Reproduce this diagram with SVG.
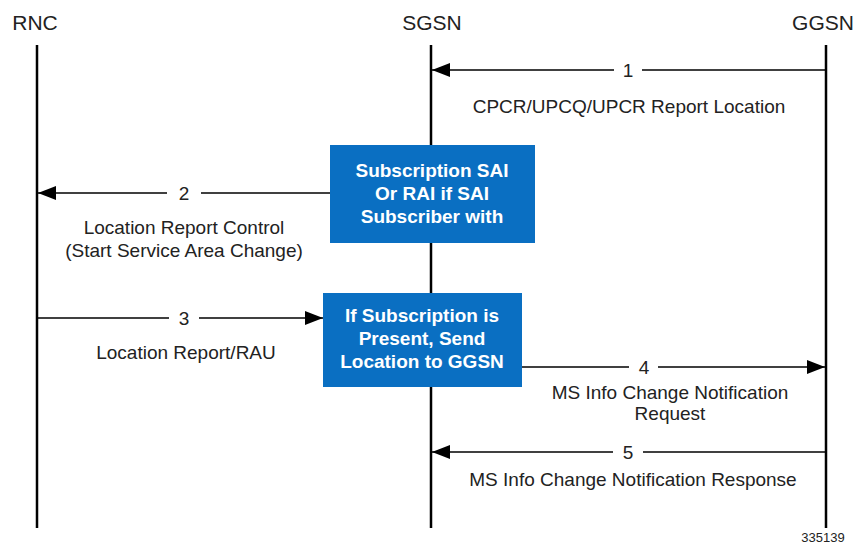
<svg xmlns="http://www.w3.org/2000/svg" width="859" height="548" viewBox="0 0 859 548">
<style>
.t{font-family:"Liberation Sans",Arial,sans-serif;font-size:19px;fill:#222;text-anchor:middle}
.h{font-family:"Liberation Sans",Arial,sans-serif;font-size:21px;fill:#222;text-anchor:middle}
.b{font-family:"Liberation Sans",Arial,sans-serif;font-size:19px;font-weight:bold;fill:#fff;text-anchor:middle}
.life{stroke:#000;stroke-width:2.5}
.msg{stroke:#000;stroke-width:1.5;fill:none}
.box{fill:#0a6fc2}
</style>
<defs>
<marker id="ah" markerWidth="18" markerHeight="14" refX="18" refY="7" orient="auto" markerUnits="userSpaceOnUse">
<path d="M0,0 L18,7 L0,14 Z" fill="#000"/>
</marker>
</defs>
<rect width="859" height="548" fill="#fff"/>
<g id="RNC"><text class="h" x="35" y="30">RNC</text><line class="life" x1="37" y1="45" x2="37" y2="528"/></g>
<g id="SGSN"><text class="h" x="432" y="30">SGSN</text><line class="life" x1="431" y1="45" x2="431" y2="528"/></g>
<g id="GGSN"><text class="h" x="823" y="30">GGSN</text><line class="life" x1="826" y1="45" x2="826" y2="528"/></g>
<g id="box1"><rect class="box" x="330" y="145" width="205" height="98"/>
<text class="b" x="432" y="177">Subscription SAI</text>
<text class="b" x="432" y="200">Or RAI if SAI</text>
<text class="b" x="432" y="223">Subscriber with</text></g>
<g id="box2"><rect class="box" x="323" y="293" width="199" height="94"/>
<text class="b" x="422" y="322">If Subscription is</text>
<text class="b" x="422" y="345">Present, Send</text>
<text class="b" x="422" y="368">Location to GGSN</text></g>
<g id="connectors">
<path class="msg" d="M826,70 H642"/><path class="msg" d="M614,70 H432" marker-end="url(#ah)"/>
<text class="t" x="628" y="77">1</text>
<text class="t" x="629" y="113">CPCR/UPCQ/UPCR Report Location</text>
<path class="msg" d="M330,193 H201"/><path class="msg" d="M167,193 H38" marker-end="url(#ah)"/>
<text class="t" x="184" y="200">2</text>
<text class="t" x="184" y="234">Location Report Control</text>
<text class="t" x="184" y="257">(Start Service Area Change)</text>
<path class="msg" d="M37,318 H169"/><path class="msg" d="M199,318 H323" marker-end="url(#ah)"/>
<text class="t" x="184" y="325">3</text>
<text class="t" x="186" y="359">Location Report/RAU</text>
<path class="msg" d="M522,367 H629"/><path class="msg" d="M658,367 H825" marker-end="url(#ah)"/>
<text class="t" x="644" y="374">4</text>
<text class="t" x="670" y="399">MS Info Change Notification</text>
<text class="t" x="670" y="420">Request</text>
<path class="msg" d="M826,452 H643"/><path class="msg" d="M613,452 H432" marker-end="url(#ah)"/>
<text class="t" x="628" y="459">5</text>
<text class="t" x="633" y="486">MS Info Change Notification Response</text>
</g>
<text x="823" y="542" style="font-family:'Liberation Sans',Arial,sans-serif;font-size:13px;fill:#222;text-anchor:middle">335139</text>
</svg>
